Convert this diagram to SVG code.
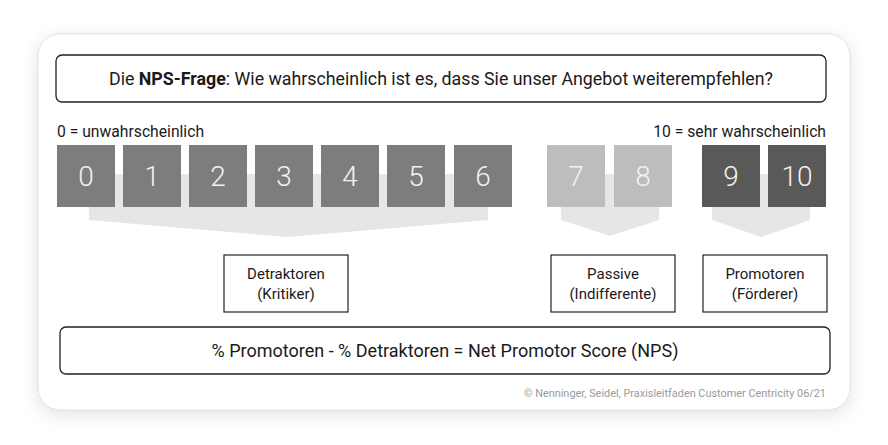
<svg xmlns="http://www.w3.org/2000/svg" width="888" height="445" viewBox="0 0 888 445">
<defs>
<filter id="sh" x="-10%" y="-15%" width="120%" height="130%">
<feDropShadow dx="0" dy="4" stdDeviation="9" flood-color="#000" flood-opacity="0.12"/>
</filter>
<style>
text{font-family:Roboto,"Liberation Sans",sans-serif;fill:#1a1a1a}
.frame{fill:#fff;stroke:#222;stroke-width:1.3}
.box{fill:#fff;stroke:#222;stroke-width:1.2}
.dig{font-size:28px;font-weight:300;fill:#f2f2f2;text-anchor:middle}
.lbl{font-size:15px;text-anchor:middle}
.arr{fill:#e6e6e6}
.det{fill:#7d7d7d}
.pas{fill:#bdbdbd}
.pro{fill:#595959}
</style>
</defs>
<rect x="38" y="34" width="812" height="376" rx="22" fill="#fff" filter="url(#sh)"/>
<rect x="38" y="34" width="812" height="376" rx="22" fill="none" stroke="#e2e2e2" stroke-width="1"/>

<g id="question">
<rect class="frame" x="56" y="55" width="770" height="47" rx="6"/>
<text x="441" y="85" font-size="17.8" text-anchor="middle">Die <tspan font-weight="bold">NPS-Frage</tspan>: Wie wahrscheinlich ist es, dass Sie unser Angebot weiterempfehlen?</text>
</g>
<text x="57" y="137" font-size="15.7">0 = unwahrscheinlich</text>
<text x="826" y="137" font-size="15.7" text-anchor="end">10 = sehr wahrscheinlich</text>

<g id="connectors">
<polygon class="arr" points="89,174 488,174 488,220 287,237 89,220"/>
<polygon class="arr" points="561,174 659,174 659,220 610,236 561,220"/>
<polygon class="arr" points="712,174 810,174 810,220 761,237 712,220"/>
</g>

<g id="scale">
<rect class="det" x="57" y="145" width="58" height="62"/>
<rect class="det" x="123" y="145" width="58" height="62"/>
<rect class="det" x="189" y="145" width="58" height="62"/>
<rect class="det" x="255" y="145" width="58" height="62"/>
<rect class="det" x="321" y="145" width="58" height="62"/>
<rect class="det" x="387" y="145" width="58" height="62"/>
<rect class="det" x="454" y="145" width="58" height="62"/>
<rect class="pas" x="547" y="145" width="58" height="62"/>
<rect class="pas" x="614" y="145" width="58" height="62"/>
<rect class="pro" x="702" y="145" width="58" height="62"/>
<rect class="pro" x="768" y="145" width="58" height="62"/>
<text class="dig" x="86" y="186">0</text>
<text class="dig" x="152" y="186">1</text>
<text class="dig" x="218" y="186">2</text>
<text class="dig" x="284" y="186">3</text>
<text class="dig" x="350" y="186">4</text>
<text class="dig" x="416" y="186">5</text>
<text class="dig" x="483" y="186">6</text>
<text class="dig" x="576" y="186">7</text>
<text class="dig" x="643" y="186">8</text>
<text class="dig" x="731" y="186">9</text>
<text class="dig" x="797" y="186">10</text>
</g>

<g id="detraktoren">
<rect class="box" x="224" y="255" width="124" height="57"/>
<text class="lbl" x="286" y="279">Detraktoren</text>
<text class="lbl" x="286" y="299">(Kritiker)</text>
</g>
<g id="passive">
<rect class="box" x="551" y="255" width="124" height="57"/>
<text class="lbl" x="613" y="279">Passive</text>
<text class="lbl" x="613" y="299">(Indifferente)</text>
</g>
<g id="promotoren">
<rect class="box" x="703" y="255" width="124" height="57"/>
<text class="lbl" x="765" y="279">Promotoren</text>
<text class="lbl" x="765" y="299">(Förderer)</text>
</g>

<g id="formula">
<rect class="frame" x="60" y="327" width="770" height="47" rx="6"/>
<text x="445" y="357" font-size="18" text-anchor="middle">% Promotoren - % Detraktoren = Net Promotor Score (NPS)</text>
</g>
<text x="826" y="397" font-size="10.9" style="fill:#9a9a9a" text-anchor="end">© Nenninger, Seidel, Praxisleitfaden Customer Centricity 06/21</text>
</svg>
